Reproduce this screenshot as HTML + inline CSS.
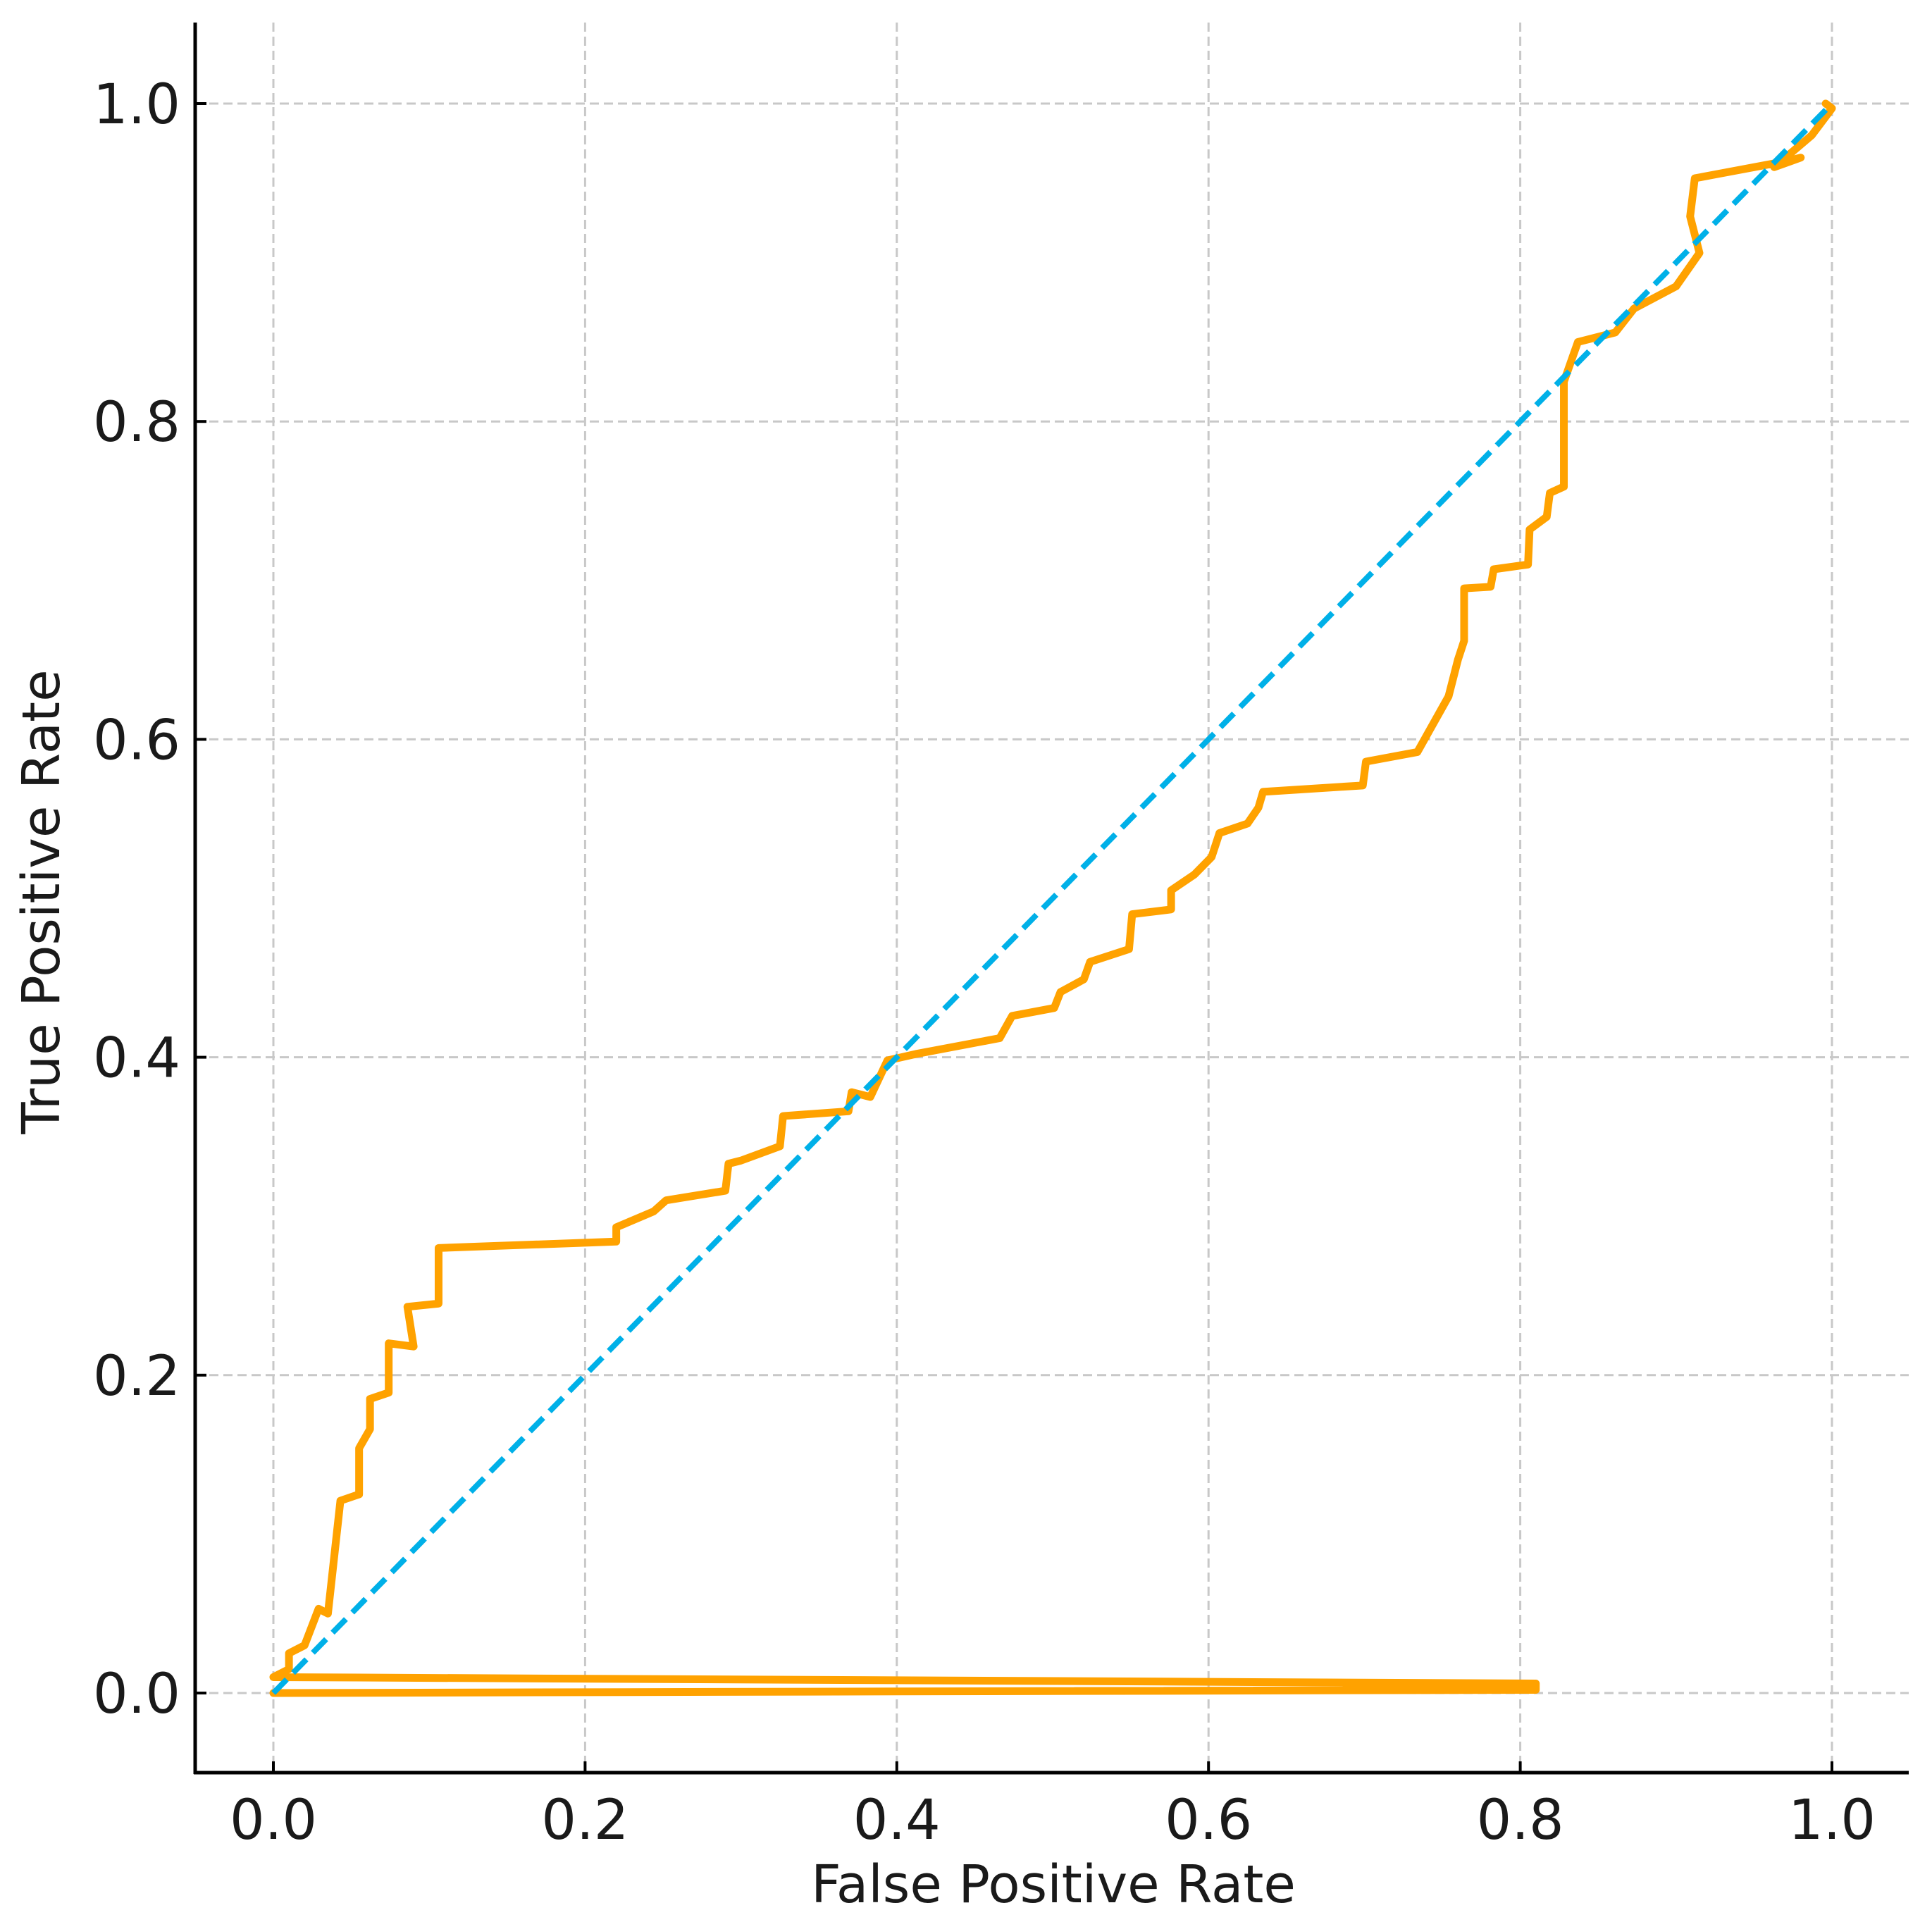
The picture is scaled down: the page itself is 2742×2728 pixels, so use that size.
<!DOCTYPE html>
<html><head><meta charset="utf-8"><style>
html,body{margin:0;padding:0;background:#fff;}
svg{display:block;font-family:"DejaVu Sans","Liberation Sans",sans-serif;}
</style></head><body>
<svg id="chart" width="2742" height="2728" viewBox="0 0 2742 2728" xmlns="http://www.w3.org/2000/svg">
<g id="grid"></g>
<g id="marks"></g>
<g id="axes"></g>
<text x="1495" y="2700" font-size="74" text-anchor="middle" fill="#1a1a1a">False Positive Rate</text>
<text transform="translate(84,1280) rotate(-90)" font-size="74" text-anchor="middle" fill="#1a1a1a">True Positive Rate</text>
</svg>
<script>
const xTicks=[0,0.2,0.4,0.6,0.8,1.0];
const yTicks=[0,0.2,0.4,0.6,0.8,1.0];
const tickLabels=["0.0","0.2","0.4","0.6","0.8","1.0"];
const fpr=[0,0.81,0.81,0,0,0.01,0.01,0.02,0.029,0.035,0.043,0.055,0.055,0.062,0.062,0.074,0.074,0.09,0.086,0.106,0.106,0.22,0.22,0.244,0.252,0.29,0.292,0.3,0.325,0.327,0.369,0.371,0.383,0.394,0.412,0.466,0.474,0.501,0.505,0.52,0.524,0.549,0.551,0.576,0.576,0.591,0.602,0.607,0.625,0.632,0.635,0.699,0.701,0.734,0.742,0.754,0.76,0.764,0.764,0.781,0.783,0.805,0.806,0.817,0.819,0.828,0.828,0.837,0.861,0.873,0.9,0.915,0.909,0.912,0.972,0.98,0.963,0.987,1.0,0.996];
const tpr=[0,0.002,0.006,0.01,0.01,0.015,0.025,0.03,0.053,0.05,0.121,0.125,0.154,0.166,0.185,0.189,0.22,0.218,0.243,0.245,0.28,0.284,0.293,0.303,0.31,0.316,0.333,0.335,0.344,0.363,0.366,0.378,0.375,0.398,0.402,0.412,0.426,0.431,0.441,0.449,0.46,0.468,0.49,0.493,0.505,0.515,0.526,0.541,0.547,0.557,0.567,0.571,0.586,0.592,0.606,0.627,0.65,0.662,0.695,0.696,0.707,0.71,0.732,0.74,0.755,0.759,0.825,0.85,0.856,0.871,0.885,0.906,0.929,0.953,0.964,0.966,0.96,0.98,0.997,1.0];
const diagX=[0,1];
const diagY=[0,1];
const NS="http://www.w3.org/2000/svg";
const X0=388,X1=2600,Y0=2403,Y1=147;
const sx=v=>X0+(X1-X0)*v;
const sy=v=>Y0-(Y0-Y1)*v;
const grid=document.getElementById('grid'),axes=document.getElementById('axes'),marks=document.getElementById('marks');
function mk(tag,attrs,parent){const e=document.createElementNS(NS,tag);for(const k in attrs)e.setAttribute(k,attrs[k]);parent.appendChild(e);return e;}
xTicks.forEach((v,i)=>{
  const g=mk('line',{x1:sx(v),x2:sx(v),y1:32,y2:2516,stroke:'#c8c8c8','stroke-width':3,'stroke-dasharray':'13 7'},grid);
  
  
  const t=mk('line',{x1:sx(v),x2:sx(v),y1:2500,y2:2516,stroke:'#000','stroke-width':4},axes);
  
  
  const l=mk('text',{x:sx(v),y:2610,'font-size':78,'text-anchor':'middle',fill:'#1a1a1a'},axes);
  l.textContent=tickLabels[i];
  
  
});
yTicks.forEach((v,i)=>{
  const g=mk('line',{x1:277,x2:2709,y1:sy(v),y2:sy(v),stroke:'#c8c8c8','stroke-width':3,'stroke-dasharray':'13 7'},grid);
  
  
  const t=mk('line',{x1:277,x2:293,y1:sy(v),y2:sy(v),stroke:'#000','stroke-width':4},axes);
  
  
  const l=mk('text',{x:256,y:sy(v)+28,'font-size':78,'text-anchor':'end',fill:'#1a1a1a'},axes);
  l.textContent=tickLabels[i];
  
  
});
const sp1=mk('line',{x1:277,x2:277,y1:32,y2:2518,stroke:'#000','stroke-width':5},axes);


const sp2=mk('line',{x1:275,x2:2709,y1:2516,y2:2516,stroke:'#000','stroke-width':5},axes);


const roc=mk('polyline',{points:fpr.map((v,i)=>sx(v)+','+sy(tpr[i])).join(' '),fill:'none',stroke:'#FFA200','stroke-width':11,'stroke-linejoin':'round','stroke-linecap':'round'},marks);


const diag=mk('polyline',{points:diagX.map((v,i)=>sx(v)+','+sy(diagY[i])).join(' '),fill:'none',stroke:'#00B0E8','stroke-width':8,'stroke-dasharray':'27 13'},marks);


</script>
</body></html>
